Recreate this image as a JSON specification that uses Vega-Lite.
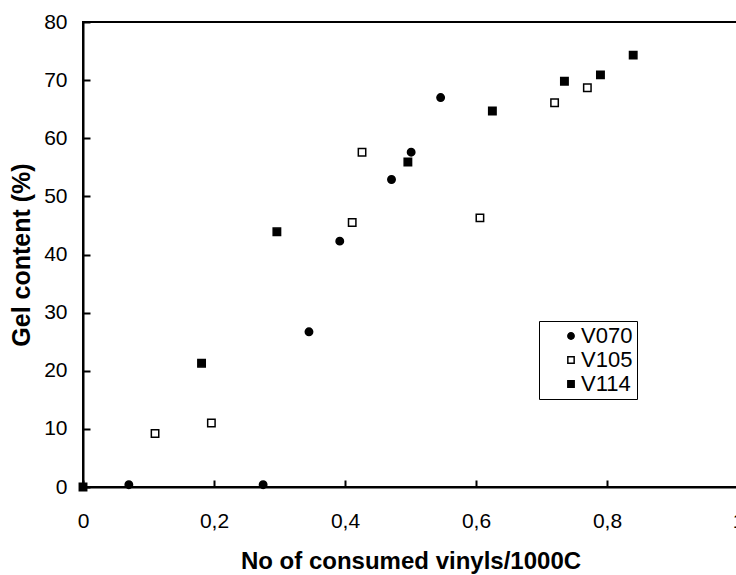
{
  "$schema": "https://vega.github.io/schema/vega-lite/v6.json",
  "width": 655,
  "height": 465,
  "autosize": {"type": "none"},
  "padding": {"left": 83, "top": 22, "right": 0, "bottom": 88},
  "background": "white",
  "config": {
    "view": {"stroke": "black", "strokeWidth": 2},
    "font": "Liberation Sans",
    "legend": {
      "orient": "none",
      "legendX": 456,
      "legendY": 299,
      "strokeColor": "black",
      "padding": 4,
      "symbolOffset": 17,
      "labelFont": "Liberation Sans",
      "labelFontSize": 22,
      "labelColor": "black",
      "symbolSize": 40,
      "symbolStrokeWidth": 1.5,
      "rowPadding": 2,
      "labelOffset": -1
    }
  },
  "data": {
    "values": [
      {"series": "V070", "x": 0.070, "y": 0.4},
      {"series": "V070", "x": 0.275, "y": 0.4},
      {"series": "V070", "x": 0.345, "y": 26.7},
      {"series": "V070", "x": 0.392, "y": 42.3},
      {"series": "V070", "x": 0.471, "y": 52.9},
      {"series": "V070", "x": 0.501, "y": 57.6},
      {"series": "V070", "x": 0.546, "y": 67.0},
      {"series": "V105", "x": 0.110, "y": 9.2},
      {"series": "V105", "x": 0.196, "y": 11.0},
      {"series": "V105", "x": 0.411, "y": 45.5},
      {"series": "V105", "x": 0.426, "y": 57.6},
      {"series": "V105", "x": 0.606, "y": 46.3},
      {"series": "V105", "x": 0.720, "y": 66.1},
      {"series": "V105", "x": 0.770, "y": 68.7},
      {"series": "V114", "x": 0.0, "y": 0.0},
      {"series": "V114", "x": 0.181, "y": 21.3},
      {"series": "V114", "x": 0.296, "y": 43.9},
      {"series": "V114", "x": 0.496, "y": 55.9},
      {"series": "V114", "x": 0.625, "y": 64.7},
      {"series": "V114", "x": 0.735, "y": 69.8},
      {"series": "V114", "x": 0.790, "y": 70.9},
      {"series": "V114", "x": 0.840, "y": 74.3}
    ]
  },
  "mark": {"type": "point", "filled": true, "strokeWidth": 1.5, "size": 55, "opacity": 1, "clip": false},
  "encoding": {
    "x": {
      "field": "x", "type": "quantitative",
      "scale": {"domain": [0, 1], "nice": false, "zero": true},
      "axis": {
        "values": [0, 0.2, 0.4, 0.6, 0.8, 1],
        "format": ",.1~f",
        "formatType": "number",
        "labelExpr": "replace(datum.label, '.', ',')",
        "title": "No of consumed vinyls/1000C",
        "grid": false,
        "domainColor": "black", "domainWidth": 2,
        "tickColor": "black", "tickWidth": 2, "tickSize": -7,
        "labelFont": "Liberation Sans", "labelFontSize": 21, "labelColor": "black",
        "labelPadding": 30, "labelFlush": false, "labelOverlap": false,
        "titleFont": "Liberation Sans", "titleFontSize": 24, "titleFontWeight": "bold", "titleColor": "black",
        "titlePadding": 18
      }
    },
    "y": {
      "field": "y", "type": "quantitative",
      "scale": {"domain": [0, 80], "nice": false},
      "axis": {
        "values": [0, 10, 20, 30, 40, 50, 60, 70, 80],
        "title": "Gel content (%)",
        "grid": false,
        "domainColor": "black", "domainWidth": 2,
        "tickColor": "black", "tickWidth": 2, "tickSize": -7,
        "labelFont": "Liberation Sans", "labelFontSize": 21, "labelColor": "black",
        "labelPadding": 23, "labelFlush": false, "labelOverlap": false,
        "titleFont": "Liberation Sans", "titleFontSize": 25, "titleFontWeight": "bold", "titleColor": "black",
        "titlePadding": 9
      }
    },
    "shape": {
      "field": "series", "type": "nominal",
      "scale": {"domain": ["V070", "V105", "V114"], "range": ["circle", "square", "square"]},
      "legend": {"title": null}
    },
    "fill": {
      "field": "series", "type": "nominal",
      "scale": {"domain": ["V070", "V105", "V114"], "range": ["black", "white", "black"]},
      "legend": {"title": null}
    },
    "stroke": {
      "field": "series", "type": "nominal",
      "scale": {"domain": ["V070", "V105", "V114"], "range": ["black", "black", "black"]},
      "legend": {"title": null}
    }
  }
}
